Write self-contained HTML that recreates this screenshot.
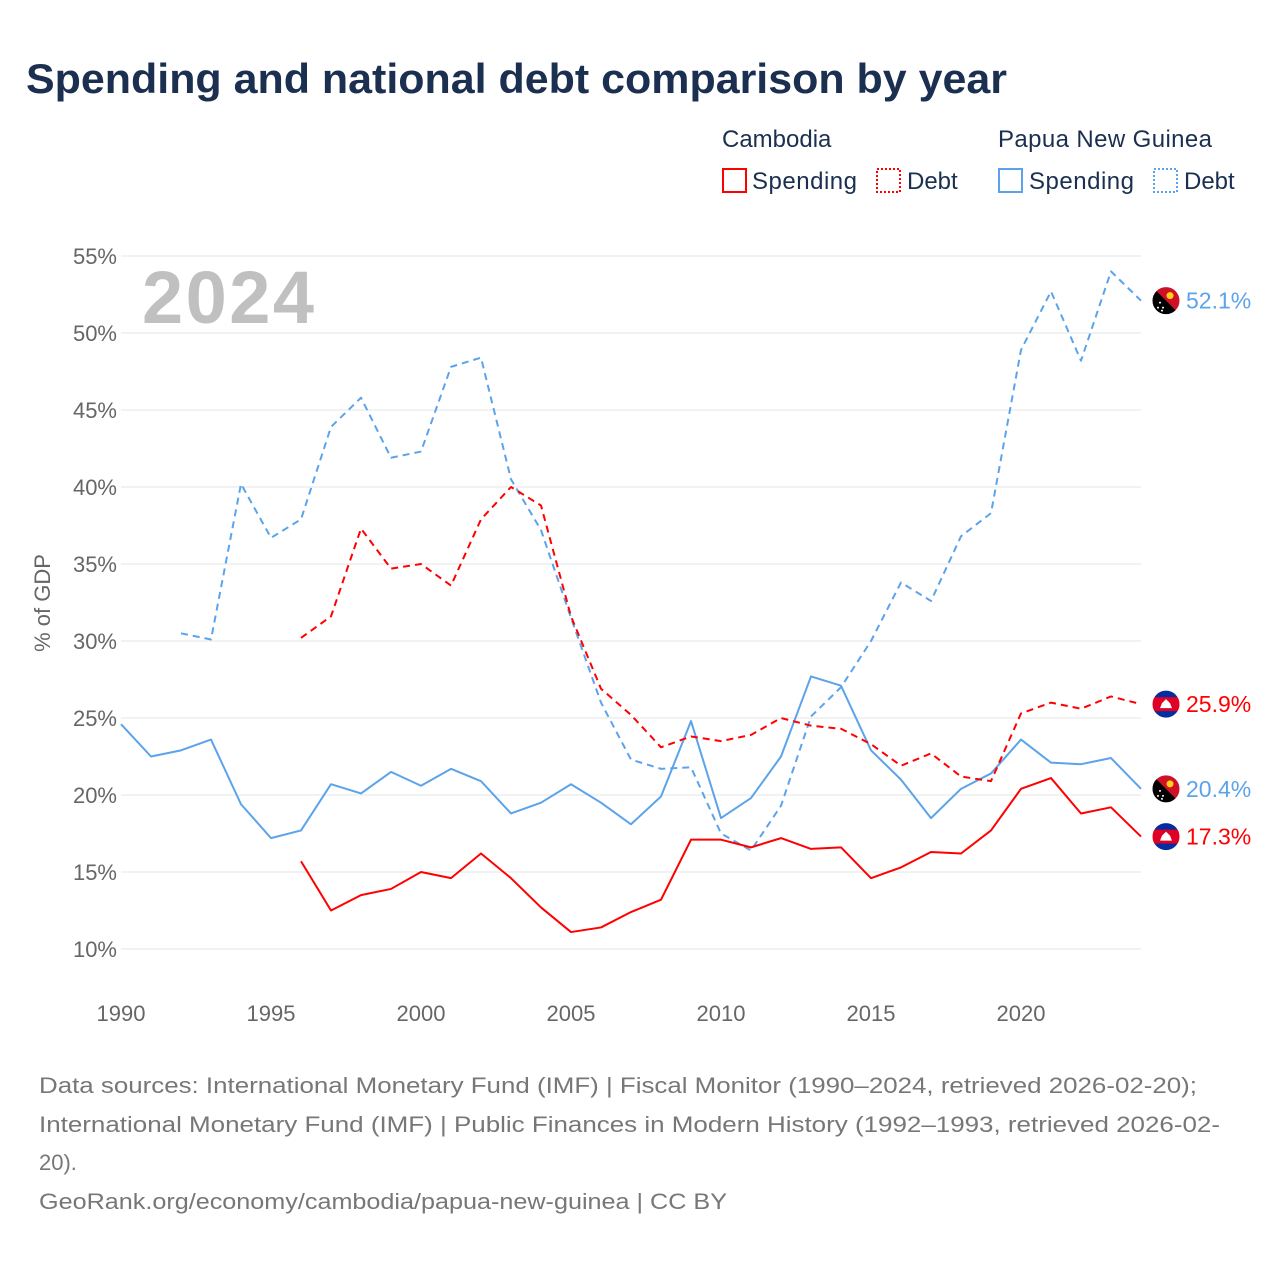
<!DOCTYPE html>
<html><head><meta charset="utf-8">
<style>
body{margin:0;background:#fff;font-family:"Liberation Sans",sans-serif;}
#wrap{position:relative;width:1280px;height:1280px;overflow:hidden;}
</style></head>
<body>
<div id="wrap">
<svg id="svg" width="1280" height="1280" xmlns="http://www.w3.org/2000/svg">
<text x="26" y="93" font-size="42" font-weight="bold" fill="#1b2f50" textLength="981" lengthAdjust="spacingAndGlyphs">Spending and national debt comparison by year</text>
<g font-size="24" fill="#1b2f50">
<text x="722" y="147">Cambodia</text>
<text x="998" y="147" textLength="214">Papua New Guinea</text>
<g><rect x="723" y="169" width="23" height="23" fill="none" stroke="#f00" stroke-width="2"/><text x="752" y="189" textLength="105">Spending</text></g>
<g><rect x="877" y="169" width="23" height="23" fill="none" stroke="#f00" stroke-width="2" stroke-dasharray="2,2"/><text x="907" y="189">Debt</text></g>
<g><rect x="999" y="169" width="23" height="23" fill="none" stroke="#5ba3ea" stroke-width="2"/><text x="1029" y="189" textLength="105">Spending</text></g>
<g><rect x="1154" y="169" width="23" height="23" fill="none" stroke="#5ba3ea" stroke-width="2" stroke-dasharray="2,2"/><text x="1184" y="189">Debt</text></g>
</g>
<text x="142" y="323" font-size="74" font-weight="bold" fill="#c0c0c0" textLength="172">2024</text>
<text transform="translate(50,603) rotate(-90)" text-anchor="middle" font-size="22" fill="#666">% of GDP</text>
<g id="grid"></g><g id="series"></g><g id="ends"></g>
<g font-size="22" fill="#777">
<text x="39" y="1093" textLength="1158" lengthAdjust="spacingAndGlyphs">Data sources: International Monetary Fund (IMF) | Fiscal Monitor (1990–2024, retrieved 2026-02-20);</text>
<text x="39" y="1132" textLength="1181" lengthAdjust="spacingAndGlyphs">International Monetary Fund (IMF) | Public Finances in Modern History (1992–1993, retrieved 2026-02-</text>
<text x="39" y="1170">20).</text>
<text x="39" y="1209" textLength="688" lengthAdjust="spacingAndGlyphs">GeoRank.org/economy/cambodia/papua-new-guinea | CC BY</text>
</g>
</svg>
</div>
<script>
const yTicks=[10,15,20,25,30,35,40,45,50,55];
const xTicks=[1990,1995,2000,2005,2010,2015,2020];
const pngSpendYears=[1990,1991,1992,1993,1994,1995,1996,1997,1998,1999,2000,2001,2002,2003,2004,2005,2006,2007,2008,2009,2010,2011,2012,2013,2014,2015,2016,2017,2018,2019,2020,2021,2022,2023,2024];
const pngSpend=[24.6,22.5,22.9,23.6,19.4,17.2,17.7,20.7,20.1,21.5,20.6,21.7,20.9,18.8,19.5,20.7,19.5,18.1,19.9,24.8,18.5,19.8,22.5,27.7,27.1,22.9,21.0,18.5,20.4,21.4,23.6,22.1,22.0,22.4,20.4];
const pngDebtYears=[1992,1993,1994,1995,1996,1997,1998,1999,2000,2001,2002,2003,2004,2005,2006,2007,2008,2009,2010,2011,2012,2013,2014,2015,2016,2017,2018,2019,2020,2021,2022,2023,2024];
const pngDebt=[30.5,30.1,40.2,36.7,37.9,43.9,45.8,41.9,42.3,47.8,48.4,40.5,37.2,31.5,26.0,22.3,21.7,21.8,17.5,16.4,19.3,25.1,27.0,30.0,33.8,32.6,36.8,38.3,48.9,52.7,48.2,54.0,52.1];
const khmYears=[1996,1997,1998,1999,2000,2001,2002,2003,2004,2005,2006,2007,2008,2009,2010,2011,2012,2013,2014,2015,2016,2017,2018,2019,2020,2021,2022,2023,2024];
const khmSpend=[15.7,12.5,13.5,13.9,15.0,14.6,16.2,14.6,12.7,11.1,11.4,12.4,13.2,17.1,17.1,16.6,17.2,16.5,16.6,14.6,15.3,16.3,16.2,17.7,20.4,21.1,18.8,19.2,17.3];
const khmDebt=[30.2,31.6,37.3,34.7,35.0,33.6,37.9,40.0,38.8,31.6,26.9,25.2,23.1,23.8,23.5,23.9,25.0,24.5,24.3,23.3,21.9,22.7,21.2,20.9,25.3,26.0,25.6,26.4,25.9];

const NS="http://www.w3.org/2000/svg";
const X=y=>121+(y-1990)*30;
const Y=v=>949-(v-10)*15.4;
function mk(tag,attrs,parent){const e=document.createElementNS(NS,tag);for(const k in attrs)e.setAttribute(k,attrs[k]);parent.appendChild(e);return e;}
const grid=document.getElementById('grid');
yTicks.forEach(t=>{
  const l=mk('line',{x1:121,x2:1141,y1:Y(t),y2:Y(t),stroke:'#e6e6e6','stroke-width':1},grid);
  
  
  const tx=mk('text',{x:117,y:Y(t)+8,'text-anchor':'end','font-size':22,fill:'#666'},grid);
  tx.textContent=t+'%';
  
  
});
xTicks.forEach(t=>{
  const tx=mk('text',{x:X(t),y:1021,'text-anchor':'middle','font-size':22,fill:'#666'},grid);
  tx.textContent=t;
  
  
});
const ser=document.getElementById('series');
function line(years,vals,color,dash,name){
  const d=years.map((y,i)=>(i?'L':'M')+X(y)+','+Y(vals[i])).join('');
  const p=mk('path',{d:d,fill:'none',stroke:color,'stroke-width':2,'stroke-linejoin':'round'},ser);
  if(dash)p.setAttribute('stroke-dasharray','7,5');
  
  
}
line(pngSpendYears,pngSpend,'#5ba3ea',false,'line-png-spending');
line(pngDebtYears,pngDebt,'#5ba3ea',true,'line-png-debt');
line(khmYears,khmSpend,'#f00',false,'line-cambodia-spending');
line(khmYears,khmDebt,'#f00',true,'line-cambodia-debt');

const ends=document.getElementById('ends');
function flag(cx,cy,type,val,color,name){
  const g=mk('g',{},ends);
  
  
  const id='c'+Math.round(cy);
  const cp=mk('clipPath',{id:id},g);mk('circle',{cx:cx,cy:cy,r:14},cp);
  const fg=mk('g',{'clip-path':'url(#'+id+')'},g);
  if(type==='png'){
    mk('rect',{x:cx-14,y:cy-14,width:28,height:28,fill:'#000'},fg);
    mk('polygon',{points:(cx-14)+','+(cy-14)+' '+(cx+14)+','+(cy-14)+' '+(cx+14)+','+(cy+14),fill:'#ce1126'},fg);
    mk('circle',{cx:cx+4,cy:cy-5,r:3.5,fill:'#fcd116'},fg);
    [[-6,2],[-3,7],[-8,7],[-4,10]].forEach(o=>mk('circle',{cx:cx+o[0],cy:cy+o[1],r:1,fill:'#fff'},fg));
  }else{
    mk('rect',{x:cx-14,y:cy-14,width:28,height:28,fill:'#032ea1'},fg);
    mk('rect',{x:cx-14,y:cy-7,width:28,height:14,fill:'#e00025'},fg);
    mk('polygon',{points:(cx-6)+','+(cy+4)+' '+(cx-4)+','+(cy-1)+' '+cx+','+(cy-5)+' '+(cx+4)+','+(cy-1)+' '+(cx+6)+','+(cy+4),fill:'#fff'},fg);
  }
  mk('circle',{cx:cx,cy:cy,r:14,fill:'none',stroke:'#fff','stroke-width':1},g);
  const t=mk('text',{x:cx+20,y:cy+8,'font-size':23,fill:color},g);
  t.textContent=val.toFixed(1)+'%';
}
flag(1166,Y(pngDebt[pngDebt.length-1]),'png',pngDebt[pngDebt.length-1],'#5ba3ea','end-label-png-debt');
flag(1166,Y(khmDebt[khmDebt.length-1]),'khm',khmDebt[khmDebt.length-1],'#f00','end-label-cambodia-debt');
flag(1166,Y(pngSpend[pngSpend.length-1]),'png',pngSpend[pngSpend.length-1],'#5ba3ea','end-label-png-spending');
flag(1166,Y(khmSpend[khmSpend.length-1]),'khm',khmSpend[khmSpend.length-1],'#f00','end-label-cambodia-spending');
</script>
</body></html>
